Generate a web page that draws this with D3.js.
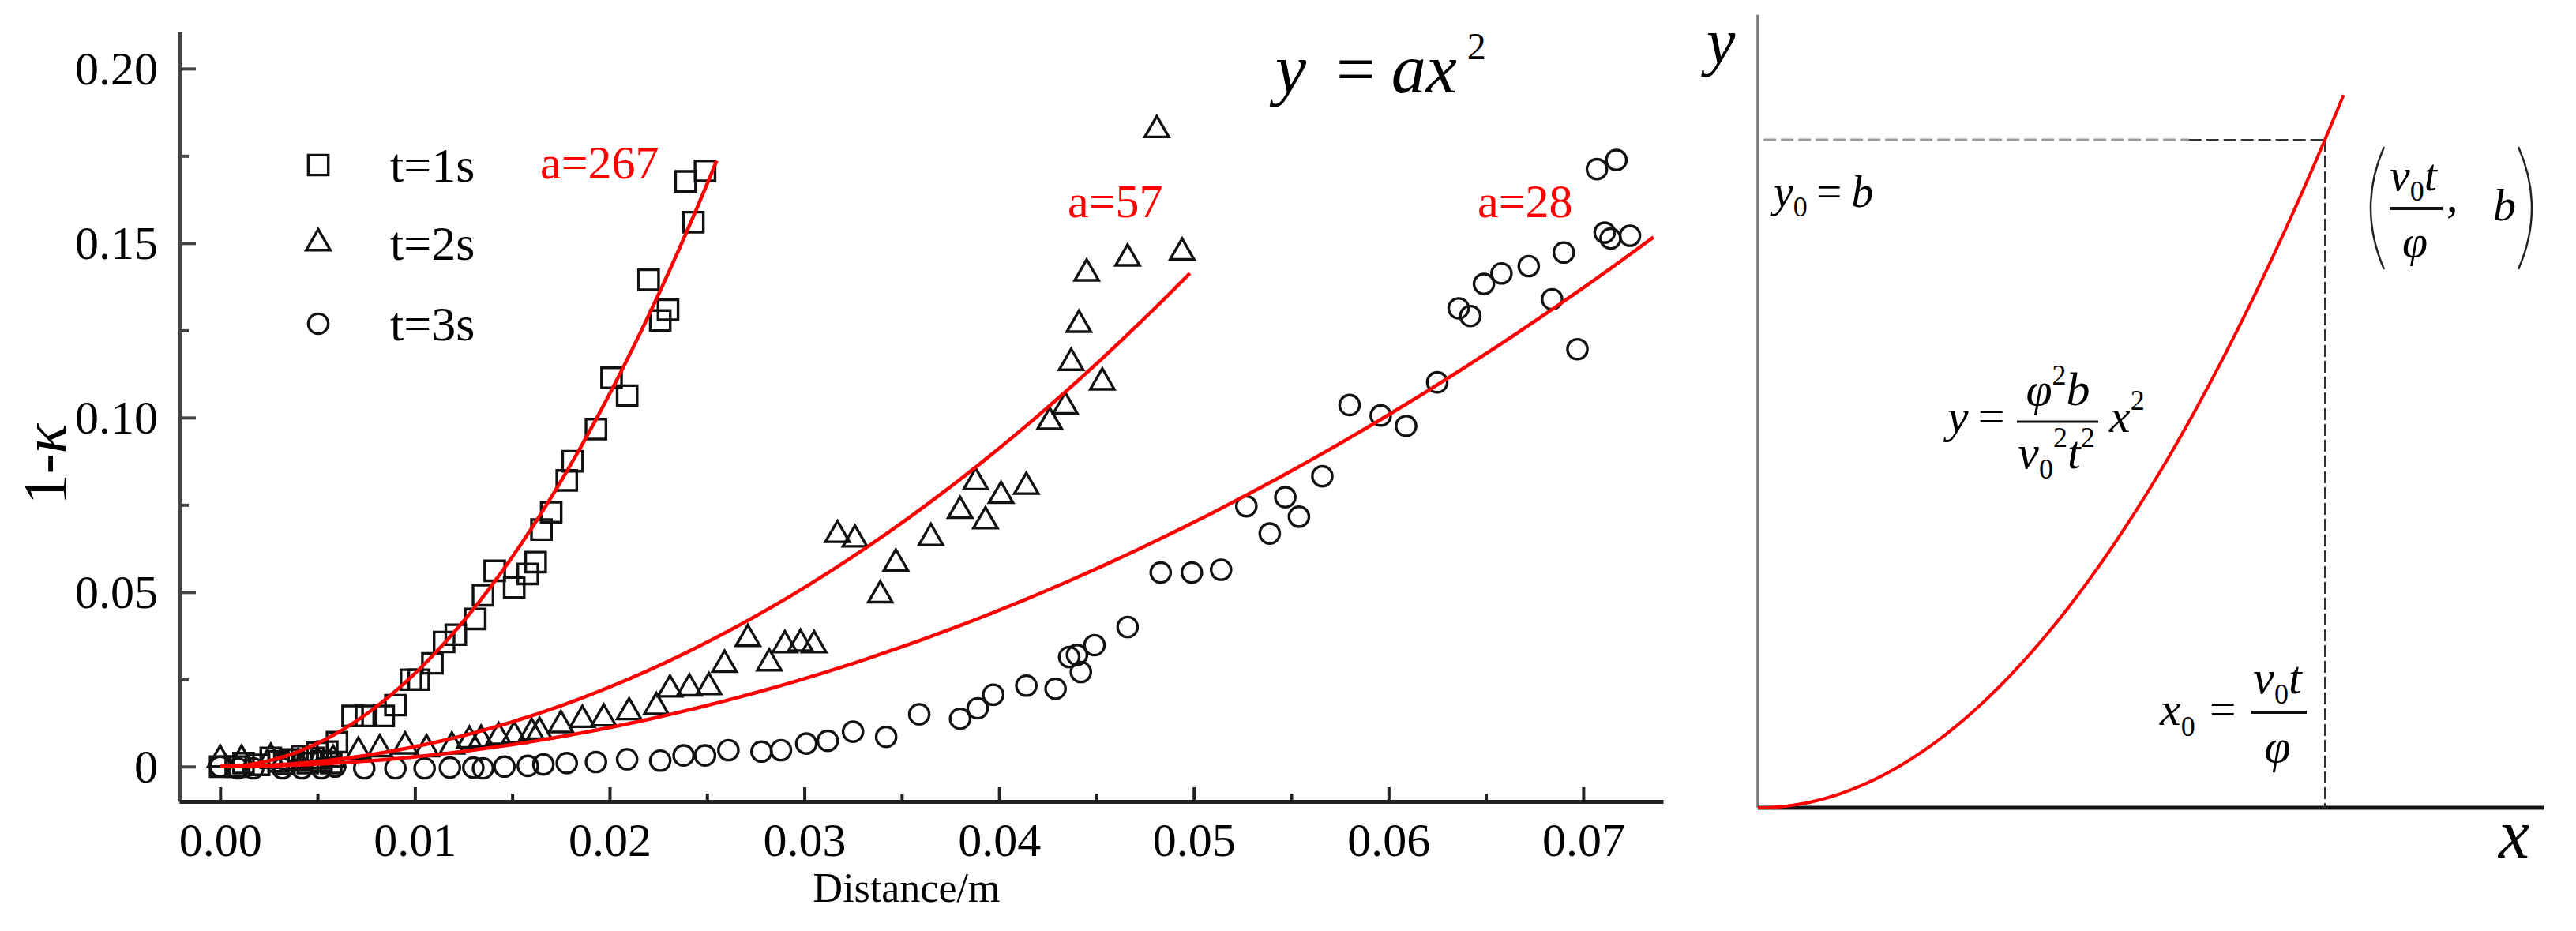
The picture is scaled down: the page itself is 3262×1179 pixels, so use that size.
<!DOCTYPE html>
<html>
<head>
<meta charset="utf-8">
<script src="https://cdn.jsdelivr.net/npm/d3@7"></script>
<style>
  body { margin: 0; background: #fff; }
  svg { display: block; }
</style>
</head>
<body>
<div id="wrapper"></div>
<script>
const seriesNames = ["t=1s", "t=2s", "t=3s"]
const fitA = [267, 57, 28]
const fitXEnd = [0.0255, 0.0498, 0.0736]
const fitLabels = ["a=267", "a=57", "a=28"]

const xTicks = [0, 0.01, 0.02, 0.03, 0.04, 0.05, 0.06, 0.07]
const xTickLabels = ["0.00", "0.01", "0.02", "0.03", "0.04", "0.05", "0.06", "0.07"]
const xMinorTicks = [0.005, 0.015, 0.025, 0.035, 0.045, 0.055, 0.065]
const yTicks = [0, 0.05, 0.10, 0.15, 0.20]
const yTickLabels = ["0", "0.05", "0.10", "0.15", "0.20"]
const yMinorTicks = [0.025, 0.075, 0.125, 0.175]

// [distance, 1-kappa]
const t1Points = [
  [0.0000, 0.0000], [0.0008, 0.0000], [0.0012, 0.0010], [0.0020, 0.0005], [0.0026, 0.0025],
  [0.0030, 0.0015], [0.0033, 0.0008], [0.0036, 0.0020], [0.0042, 0.0030], [0.0045, 0.0010],
  [0.0048, 0.0025], [0.0050, 0.0040], [0.0052, 0.0015], [0.0055, 0.0043], [0.0057, 0.0010],
  [0.0060, 0.0070], [0.0068, 0.0145], [0.0075, 0.0145], [0.0084, 0.0145], [0.0090, 0.0176],
  [0.0098, 0.0249], [0.0102, 0.0249], [0.0109, 0.0296], [0.0115, 0.0357], [0.0121, 0.0378],
  [0.0131, 0.0423], [0.0135, 0.0491], [0.0141, 0.0561], [0.0151, 0.0513], [0.0158, 0.0552],
  [0.0162, 0.0586], [0.0165, 0.0679], [0.0170, 0.0729], [0.0178, 0.0820], [0.0181, 0.0875],
  [0.0193, 0.0967], [0.0201, 0.1114], [0.0209, 0.1063], [0.0220, 0.1395], [0.0226, 0.1278],
  [0.0230, 0.1309], [0.0239, 0.1677], [0.0243, 0.1560], [0.0249, 0.1707]
]
const t2Points = [
  [0.0000, 0.0020], [0.0011, 0.0020], [0.0026, 0.0025], [0.0040, 0.0010], [0.0050, 0.0015],
  [0.0058, 0.0020], [0.0071, 0.0043], [0.0082, 0.0050], [0.0095, 0.0058], [0.0106, 0.0050],
  [0.0119, 0.0058], [0.0128, 0.0075], [0.0134, 0.0077], [0.0143, 0.0085], [0.0151, 0.0088],
  [0.0160, 0.0097], [0.0164, 0.0100], [0.0175, 0.0119], [0.0186, 0.0134], [0.0197, 0.0138],
  [0.0210, 0.0156], [0.0224, 0.0171], [0.0231, 0.0221], [0.0241, 0.0224], [0.0251, 0.0228],
  [0.0259, 0.0292], [0.0271, 0.0366], [0.0282, 0.0296], [0.0290, 0.0348], [0.0298, 0.0352],
  [0.0305, 0.0348], [0.0317, 0.0664], [0.0326, 0.0651], [0.0339, 0.0491], [0.0347, 0.0582],
  [0.0365, 0.0655], [0.0380, 0.0733], [0.0388, 0.0815], [0.0393, 0.0703], [0.0401, 0.0776],
  [0.0414, 0.0802], [0.0426, 0.0988], [0.0434, 0.1032], [0.0437, 0.1157], [0.0441, 0.1266],
  [0.0445, 0.1413], [0.0453, 0.1101], [0.0466, 0.1456], [0.0481, 0.1824], [0.0494, 0.1473]
]
const t3Points = [
  [0.0000, 0.0000], [0.0009, -0.0005], [0.0017, -0.0005], [0.0032, -0.0005], [0.0042, -0.0005],
  [0.0052, -0.0005], [0.0059, 0.0000], [0.0074, -0.0005], [0.0090, -0.0005], [0.0105, -0.0005],
  [0.0118, -0.0003], [0.0130, -0.0003], [0.0135, -0.0005], [0.0146, 0.0000], [0.0158, 0.0002],
  [0.0166, 0.0006], [0.0178, 0.0010], [0.0193, 0.0013], [0.0209, 0.0021], [0.0226, 0.0017],
  [0.0238, 0.0032], [0.0249, 0.0032], [0.0261, 0.0047], [0.0278, 0.0043], [0.0288, 0.0047],
  [0.0301, 0.0066], [0.0312, 0.0074], [0.0325, 0.0100], [0.0342, 0.0085], [0.0359, 0.0150],
  [0.0380, 0.0137], [0.0389, 0.0167], [0.0397, 0.0206], [0.0414, 0.0232], [0.0429, 0.0223],
  [0.0436, 0.0314], [0.0440, 0.0320], [0.0442, 0.0271], [0.0449, 0.0348], [0.0466, 0.0400],
  [0.0483, 0.0556], [0.0499, 0.0556], [0.0514, 0.0564], [0.0527, 0.0746], [0.0539, 0.0668],
  [0.0547, 0.0772], [0.0554, 0.0716], [0.0566, 0.0832], [0.0580, 0.1036], [0.0596, 0.1006],
  [0.0609, 0.0976], [0.0625, 0.1101], [0.0636, 0.1313], [0.0642, 0.1291], [0.0649, 0.1383],
  [0.0658, 0.1413], [0.0672, 0.1434], [0.0684, 0.1339], [0.0690, 0.1473], [0.0697, 0.1196],
  [0.0707, 0.1712], [0.0711, 0.1530], [0.0714, 0.1513], [0.0717, 0.1738], [0.0724, 0.1521]
]
const allSeries = [t1Points, t2Points, t3Points]

// schematic panel (x0 = v0 t / phi, y0 = b)
const schemX0 = 1
const schemB = 1
const schemXEnd = 1.033

const serif = "'Liberation Serif', 'DejaVu Serif', serif"
const width = 3262
const height = 1179

const svg = d3.select("#wrapper")
  .append("svg")
    .attr("width", width)
    .attr("height", height)
    .attr("font-family", serif)

// ---------- left chart ----------
const plot = { left: 227, right: 2106, top: 40, bottom: 1015 }

const xScale = d3.scaleLinear()
    .domain([-0.0021, 0.0741])
    .range([plot.left, plot.right])
const yScale = d3.scaleLinear()
    .domain([-0.01, 0.2106])
    .range([plot.bottom, plot.top])

const styleAxis = (g, color, width) => {
  g.attr("font-family", serif).attr("font-size", 60)
  g.select(".domain").attr("stroke", color).attr("stroke-width", width)
  g.selectAll(".tick line").attr("stroke", color).attr("stroke-width", 4)
  g.selectAll(".tick text").attr("fill", "#000")
}

const yAxis = svg.append("g")
    .attr("transform", `translate(${plot.left},0)`)
    .call(d3.axisLeft(yScale)
      .tickValues(yTicks)
      .tickSizeInner(-21)
      .tickSizeOuter(0)
      .tickPadding(27)
      .tickFormat((d, i) => yTickLabels[i]))
    .call(g => styleAxis(g, "#444", 5))

svg.append("g")
    .attr("transform", `translate(${plot.left},0)`)
    .call(d3.axisLeft(yScale).tickValues(yMinorTicks).tickSizeInner(-12).tickSizeOuter(0).tickFormat(""))
    .call(g => g.select(".domain").remove())
    .call(g => g.selectAll(".tick line").attr("stroke", "#444").attr("stroke-width", 4))

const xAxis = svg.append("g")
    .attr("transform", `translate(0,${plot.bottom})`)
    .call(d3.axisBottom(xScale)
      .tickValues(xTicks)
      .tickSizeInner(-18)
      .tickSizeOuter(0)
      .tickPadding(26)
      .tickFormat((d, i) => xTickLabels[i]))
    .call(g => styleAxis(g, "#222", 5))

svg.append("g")
    .attr("transform", `translate(0,${plot.bottom})`)
    .call(d3.axisBottom(xScale).tickValues(xMinorTicks).tickSizeInner(-10).tickSizeOuter(0).tickFormat(""))
    .call(g => g.select(".domain").remove())
    .call(g => g.selectAll(".tick line").attr("stroke", "#222").attr("stroke-width", 4))

svg.append("text")
    .attr("x", 1148)
    .attr("y", 1142)
    .attr("text-anchor", "middle")
    .attr("font-size", 52)
    .text("Distance/m")

const yLabel = svg.append("text")
    .attr("transform", "translate(83,588) rotate(-90)")
    .attr("text-anchor", "middle")
    .attr("font-size", 78)
yLabel.append("tspan").text("1-")
yLabel.append("tspan").attr("font-style", "italic").text("κ")

// markers
const symbolTypes = [d3.symbolSquare, d3.symbolTriangle, d3.symbolCircle]
const symbolSizes = [640, 400, 500]
const markerPath = i => d3.symbol(symbolTypes[i], symbolSizes[i])()

allSeries.forEach((points, i) => {
  svg.append("g").selectAll("path")
    .data(points)
    .enter().append("path")
      .attr("d", markerPath(i))
      .attr("transform", d => `translate(${xScale(d[0])},${yScale(d[1])})`)
      .attr("fill", "none")
      .attr("stroke", "#111")
      .attr("stroke-width", 3.4)
})

// fitted y = a x^2 curves
const fitLine = d3.line()
    .x(d => xScale(d[0]))
    .y(d => yScale(d[1]))
fitA.forEach((a, i) => {
  const pts = d3.range(0, 101).map(k => {
    const x = fitXEnd[i] * k / 100
    return [x, a * x * x]
  })
  svg.append("path")
      .attr("d", fitLine(pts))
      .attr("fill", "none")
      .attr("stroke", "#ff0000")
      .attr("stroke-width", 4.5)
})

const fitLabelPos = [[684, 226], [1352, 275], [1871, 275]]
fitLabels.forEach((label, i) => {
  svg.append("text")
      .attr("x", fitLabelPos[i][0])
      .attr("y", fitLabelPos[i][1])
      .attr("font-size", 60)
      .attr("fill", "#ff0000")
      .text(label)
})

// legend
const legendY = [209, 308, 410]
seriesNames.forEach((name, i) => {
  svg.append("path")
      .attr("d", markerPath(i))
      .attr("transform", `translate(403,${legendY[i]})`)
      .attr("fill", "none")
      .attr("stroke", "#111")
      .attr("stroke-width", 3.4)
  svg.append("text")
      .attr("x", 494)
      .attr("y", legendY[i] + 21)
      .attr("font-size", 62)
      .text(name)
})

// y = ax^2 title
const title = svg.append("text")
    .attr("x", 1615)
    .attr("y", 117)
    .attr("font-size", 88)
title.append("tspan").attr("font-style", "italic").text("y")
title.append("tspan").attr("dx", 38).text("=")
title.append("tspan").attr("dx", 20).attr("font-style", "italic").text("ax")
title.append("tspan").attr("dx", 13).attr("dy", -42).attr("font-size", 48).text("2")

// ---------- right schematic ----------
const xR = d3.scaleLinear().domain([0, schemX0]).range([2226, 2944])
const yR = d3.scaleLinear().domain([0, schemB]).range([1023, 177])

svg.append("line")
    .attr("x1", xR(0)).attr("x2", xR(0))
    .attr("y1", yR(0)).attr("y2", yR(1.187))
    .attr("stroke", "#777")
    .attr("stroke-width", 3.5)

svg.append("line")
    .attr("x1", xR(0)).attr("x2", xR(1.386))
    .attr("y1", yR(0)).attr("y2", yR(0))
    .attr("stroke", "#111")
    .attr("stroke-width", 5)

svg.append("line")
    .attr("x1", xR(0.01)).attr("x2", xR(0.76))
    .attr("y1", yR(schemB)).attr("y2", yR(schemB))
    .attr("stroke", "#9a9a9a")
    .attr("stroke-width", 3)
    .attr("stroke-dasharray", "16,6")
svg.append("line")
    .attr("x1", xR(0.76)).attr("x2", xR(schemX0))
    .attr("y1", yR(schemB)).attr("y2", yR(schemB))
    .attr("stroke", "#333")
    .attr("stroke-width", 2)
    .attr("stroke-dasharray", "16,6")
svg.append("line")
    .attr("x1", xR(schemX0)).attr("x2", xR(schemX0))
    .attr("y1", yR(schemB)).attr("y2", yR(0))
    .attr("stroke", "#333")
    .attr("stroke-width", 2)
    .attr("stroke-dasharray", "15,5")

const schemPts = d3.range(0, 101).map(k => {
  const x = schemXEnd * k / 100
  return [x, schemB * (x / schemX0) ** 2]
})
svg.append("path")
    .attr("d", d3.line().x(d => xR(d[0])).y(d => yR(d[1]))(schemPts))
    .attr("fill", "none")
    .attr("stroke", "#ff0000")
    .attr("stroke-width", 4)

const mathText = (x, y, size, anchor) => svg.append("text")
    .attr("x", x).attr("y", y)
    .attr("font-size", size)
    .attr("text-anchor", anchor || "start")

const fracBar = (x1, x2, y, w) => svg.append("line")
    .attr("x1", x1).attr("x2", x2)
    .attr("y1", y).attr("y2", y)
    .attr("stroke", "#111")
    .attr("stroke-width", w)

mathText(2161, 80, 82).attr("font-style", "italic").text("y")
mathText(3164, 1086, 88).attr("font-style", "italic").text("x")

// y0 = b
const y0Text = mathText(2246, 262, 56)
y0Text.append("tspan").attr("font-style", "italic").text("y")
y0Text.append("tspan").attr("font-size", 36).attr("dy", 12).text("0")
y0Text.append("tspan").attr("dy", -12).attr("dx", 12).text("=")
y0Text.append("tspan").attr("dx", 12).attr("font-style", "italic").text("b")

// (v0 t / phi, b)
svg.append("path")
    .attr("d", "M3019,186 Q2985,263 3019,341")
    .attr("fill", "none").attr("stroke", "#222").attr("stroke-width", 2.5)
svg.append("path")
    .attr("d", "M3189,186 Q3223,263 3189,341")
    .attr("fill", "none").attr("stroke", "#222").attr("stroke-width", 2.5)
const ptNum = mathText(3056, 241, 58, "middle")
ptNum.append("tspan").attr("font-style", "italic").text("v")
ptNum.append("tspan").attr("font-size", 36).attr("dy", 13).text("0")
ptNum.append("tspan").attr("dy", -13).attr("font-style", "italic").text("t")
fracBar(3026, 3093, 264, 4)
mathText(3058, 325, 58, "middle").attr("font-style", "italic").text("φ")
mathText(3098, 268, 58).text(",")
mathText(3157, 279, 58).attr("font-style", "italic").text("b")

// y = phi^2 b / (v0^2 t^2) x^2
const eqLeft = mathText(2466, 547, 60)
eqLeft.append("tspan").attr("font-style", "italic").text("y")
eqLeft.append("tspan").attr("dx", 12).text("=")
fracBar(2554, 2657, 534, 3)
const eqNum = mathText(2606, 513, 60, "middle")
eqNum.append("tspan").attr("font-style", "italic").text("φ")
eqNum.append("tspan").attr("font-size", 36).attr("dy", -26).text("2")
eqNum.append("tspan").attr("dy", 26).attr("font-style", "italic").text("b")
const eqDen = mathText(2604, 593, 60, "middle")
eqDen.append("tspan").attr("font-style", "italic").text("v")
eqDen.append("tspan").attr("font-size", 36).attr("dy", 13).text("0")
eqDen.append("tspan").attr("font-size", 36).attr("dy", -40).text("2")
eqDen.append("tspan").attr("dy", 27).attr("font-style", "italic").text("t")
eqDen.append("tspan").attr("font-size", 36).attr("dy", -27).text("2")
const eqX = mathText(2671, 547, 60)
eqX.append("tspan").attr("font-style", "italic").text("x")
eqX.append("tspan").attr("font-size", 36).attr("dy", -28).text("2")

// x0 = v0 t / phi
const x0Text = mathText(2735, 918, 60)
x0Text.append("tspan").attr("font-style", "italic").text("x")
x0Text.append("tspan").attr("font-size", 36).attr("dy", 14).text("0")
x0Text.append("tspan").attr("dy", -14).attr("dx", 18).text("=")
fracBar(2851, 2921, 902, 4)
const x0Num = mathText(2884, 878, 60, "middle")
x0Num.append("tspan").attr("font-style", "italic").text("v")
x0Num.append("tspan").attr("font-size", 36).attr("dy", 13).text("0")
x0Num.append("tspan").attr("dy", -13).attr("font-style", "italic").text("t")
mathText(2884, 965, 60, "middle").attr("font-style", "italic").text("φ")

svg.selectAll("text").style("font-family", serif)
</script>
</body>
</html>
